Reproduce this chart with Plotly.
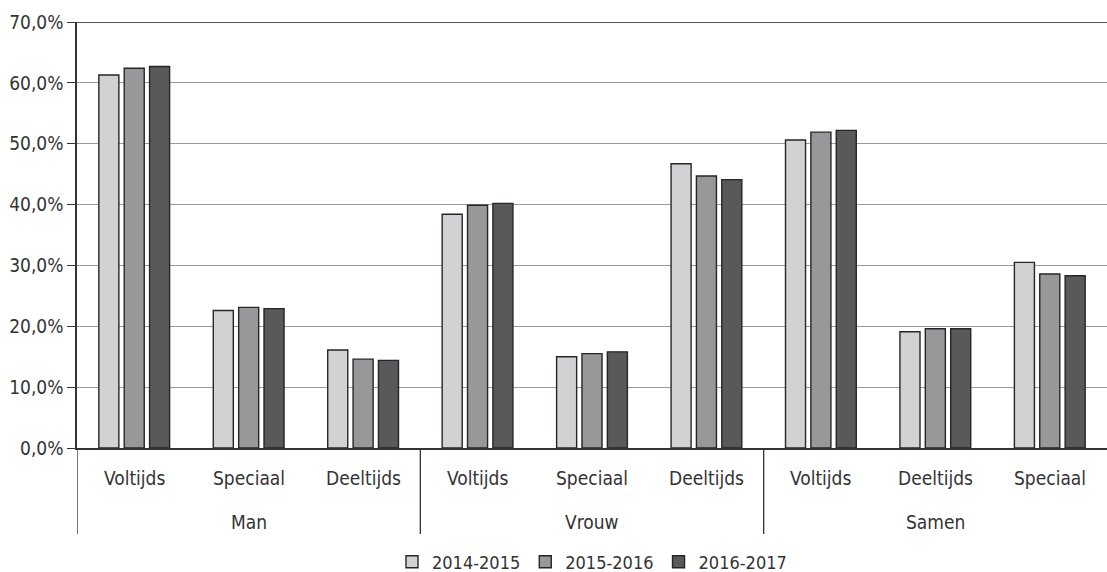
import plotly.graph_objects as go

# Outer groups (gender) and inner categories (type of study)
groups = ["Man", "Vrouw", "Samen"]
types = ["Voltijds", "Speciaal", "Deeltijds",
         "Voltijds", "Speciaal", "Deeltijds",
         "Voltijds", "Deeltijds", "Speciaal"]

years = ["2014-2015", "2015-2016", "2016-2017"]
share_2014_2015 = [61.3, 22.6, 16.1, 38.4, 15.0, 46.7, 50.6, 19.1, 30.5]
share_2015_2016 = [62.4, 23.1, 14.6, 39.9, 15.5, 44.7, 51.9, 19.6, 28.6]
share_2016_2017 = [62.7, 22.9, 14.4, 40.2, 15.8, 44.1, 52.2, 19.6, 28.3]

y_ticks = [0, 10, 20, 30, 40, 50, 60, 70]

fills = ["#d1d2d4", "#97989a", "#58595b"]
series = [share_2014_2015, share_2015_2016, share_2016_2017]

FONT = "DejaVu Sans Condensed"
TEXT = "#333333"
FS = 19

# plot-area geometry in pixels
W, H = 1107, 572
M_L, M_R, M_T, M_B = 77, 0, 22, 124
PLOT_H = H - M_T - M_B

positions = list(range(len(types)))
per_group = len(types) // len(groups)

fig = go.Figure()
for name, vals, col in zip(years, series, fills):
    fig.add_trace(go.Bar(
        x=positions,
        y=vals,
        name=name,
        marker=dict(color=col, line=dict(color="#262626", width=1.4)),
    ))

annotations = []
shapes = []

# inner category labels
for pos, label in zip(positions, types):
    annotations.append(dict(
        x=pos, xref="x", y=0, yref="paper",
        text=label, showarrow=False,
        xanchor="center", yanchor="middle", yshift=-30,
        font=dict(family=FONT, size=FS, color=TEXT),
    ))

# outer group labels and dividers
divider_bottom = -(534 - (H - M_B)) / PLOT_H
for gi, g in enumerate(groups):
    start = gi * per_group - 0.5
    centre = start + per_group / 2
    annotations.append(dict(
        x=centre, xref="x", y=0, yref="paper",
        text=g, showarrow=False,
        xanchor="center", yanchor="middle", yshift=-74,
        font=dict(family=FONT, size=FS, color=TEXT),
    ))
    shapes.append(dict(
        type="line", xref="x", yref="paper",
        x0=start, x1=start, y0=0, y1=divider_bottom,
        line=dict(color="#333333", width=1.3),
    ))

# top border of the plotting area
shapes.append(dict(type="line", xref="paper", yref="y", x0=0, x1=1, y0=70, y1=70,
                   line=dict(color="#555555", width=1.8), layer="above"))

fig.update_layout(
    width=W,
    height=H,
    margin=dict(l=M_L, r=M_R, t=M_T, b=M_B, autoexpand=False),
    paper_bgcolor="white",
    plot_bgcolor="white",
    barmode="group",
    bargap=0.335,
    bargroupgap=0.21,
    font=dict(family=FONT, size=FS, color=TEXT),
    showlegend=True,
    legend=dict(
        orientation="h",
        x=0.5, xanchor="center",
        yref="container",
        y=(H - 562) / H, yanchor="middle",
        font=dict(family=FONT, size=18, color=TEXT),
        itemwidth=30,
        traceorder="normal",
    ),
    xaxis=dict(
        range=[-0.5, len(types) - 0.5],
        showticklabels=False,
        showgrid=False,
        zeroline=False,
        showline=True,
        linecolor="#333333",
        linewidth=1.5,
        ticks="",
    ),
    yaxis=dict(
        range=[0, 70],
        tickvals=y_ticks,
        ticktext=[f"{v},0%" for v in y_ticks],
        showgrid=True,
        gridcolor="#9a9a9a",
        gridwidth=1.3,
        showline=True,
        linecolor="#333333",
        linewidth=1.5,
        ticks="outside",
        ticklen=8,
        tickcolor="#333333",
        tickfont=dict(family=FONT, size=FS, color=TEXT),
        zeroline=False,
    ),
    annotations=annotations,
    shapes=shapes,
)

fig.write_html("out.html")
